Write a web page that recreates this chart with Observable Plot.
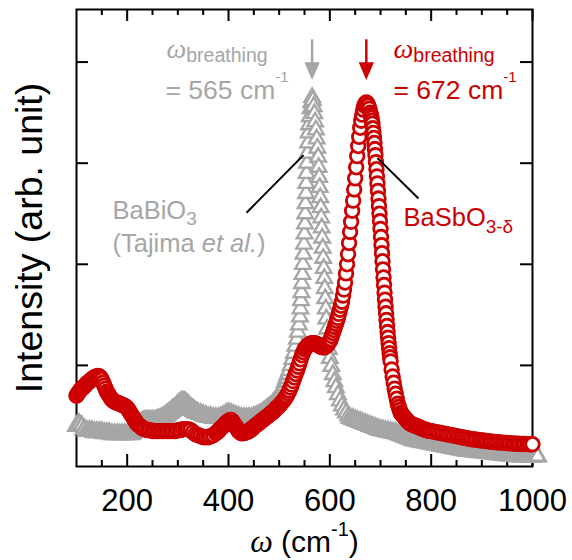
<!DOCTYPE html>
<html>
<head>
<meta charset="utf-8">
<script src="https://cdn.jsdelivr.net/npm/d3@7"></script>
<script src="https://cdn.jsdelivr.net/npm/@observablehq/plot@0.6"></script>
<style>
html, body { margin: 0; padding: 0; background: #ffffff; }
#chart svg { display: block; }
</style>
</head>
<body>
<div id="chart"></div>
<script>
// ---------------- DATA ----------------
// BaSbO3-δ (red open circles), sampled in segments
const basbX = [
  ...d3.range(100, 236, 2.5),
  ...d3.range(240, 376, 5),
  ...d3.range(377.5, 598, 2.5),
  ...d3.range(600, 679, 2),
  ...d3.range(680, 721, 1),
  ...d3.range(722, 741, 2),
  ...d3.range(742.5, 801, 2.5),
  ...d3.range(805, 1001, 5)
];
const basbY = [
  // 100 .. 235 (2.5)
  0.70,0.72,0.74,0.755,0.77,0.78,0.79,0.805,0.82,0.83,
  0.84,0.85,0.86,0.87,0.88,0.885,0.89,0.895,0.89,0.88,
  0.86,0.83,0.80,0.77,0.74,0.72,0.70,0.68,0.66,0.65,
  0.64,0.635,0.63,0.625,0.62,0.615,0.61,0.605,0.60,0.59,
  0.58,0.56,0.54,0.52,0.50,0.48,0.46,0.44,0.42,0.41,
  0.40,0.39,0.38,0.375,0.37,
  // 240 .. 375 (5)
  0.36,0.36,0.35,0.35,0.35,0.35,0.35,0.35,0.35,0.35,
  0.35,0.35,0.36,0.36,0.37,0.37,0.37,0.36,0.34,0.32,
  0.31,0.30,0.29,0.29,0.29,0.30,0.31,0.33,
  // 377.5 .. 597.5 (2.5)
  0.34,0.35,0.365,0.38,0.39,0.40,0.415,0.43,0.44,0.45,
  0.457,0.46,0.45,0.43,0.41,0.39,0.37,0.35,0.34,0.33,
  0.328,0.33,0.335,0.34,0.345,0.35,0.36,0.37,0.38,0.39,
  0.40,0.41,0.42,0.43,0.44,0.45,0.46,0.47,0.48,0.49,
  0.50,0.51,0.52,0.53,0.54,0.55,0.565,0.58,0.59,0.60,
  0.615,0.63,0.645,0.66,0.68,0.70,0.725,0.75,0.78,0.81,
  0.845,0.88,0.915,0.95,0.985,1.02,1.06,1.10,1.13,1.16,
  1.175,1.19,1.20,1.21,1.215,1.22,1.22,1.22,1.215,1.21,
  1.20,1.19,1.185,1.18,1.18,1.18,1.19,1.20,1.22,
  // 600 .. 678 (2)
  1.24,1.26,1.29,1.32,1.35,1.38,1.41,1.44,1.47,1.51,
  1.55,1.59,1.63,1.69,1.75,1.82,1.91,2.00,2.10,2.21,
  2.32,2.42,2.53,2.63,2.74,2.85,2.96,3.07,3.17,3.26,
  3.35,3.42,3.48,3.53,3.57,3.59,3.60,3.59,3.57,3.54,
  // 680 .. 720 (1)
  3.50,3.475,3.45,3.42,3.39,3.345,3.30,3.25,3.20,3.14,
  3.08,3.01,2.94,2.87,2.80,2.725,2.65,2.575,2.50,2.425,
  2.35,2.27,2.19,2.11,2.03,1.95,1.87,1.795,1.72,1.65,
  1.58,1.515,1.45,1.39,1.33,1.275,1.22,1.17,1.12,1.08,
  1.04,
  // 722 .. 740 (2)
  0.96,0.89,0.83,0.77,0.72,0.67,0.62,0.59,0.56,0.53,
  // 742.5 .. 800 (2.5)
  0.515,0.50,0.485,0.47,0.455,0.44,0.43,0.42,0.415,0.41,
  0.405,0.40,0.395,0.39,0.385,0.38,0.375,0.37,0.365,0.36,
  0.357,0.355,0.352,0.35,
  // 805 .. 1000 (5)
  0.345,0.34,0.335,0.33,0.325,0.32,0.315,0.31,0.305,0.30,
  0.295,0.29,0.285,0.28,0.275,0.27,0.267,0.264,0.26,0.257,
  0.254,0.251,0.248,0.245,0.242,0.24,0.238,0.236,0.234,0.232,
  0.23,0.228,0.226,0.225,0.224,0.223,0.222,0.221,0.22,0.22
];

// BaBiO3, Tajima et al. (grey open triangles): background below the peak
const babiLowX = [
  ...d3.range(100, 206, 5),
  ...d3.range(207.5, 341, 2.5),
  ...d3.range(345, 461, 5),
  ...d3.range(462.5, 518, 2.5)
];
const babiLowY = [
  // 100 .. 205 (5)
  0.40,0.42,0.40,0.37,0.35,0.35,0.35,0.34,0.34,0.34,
  0.34,0.33,0.33,0.33,0.32,0.32,0.32,0.32,0.32,0.32,
  0.32,0.32,
  // 207.5 .. 340 (2.5)
  0.325,0.33,0.34,0.35,0.365,0.38,0.40,0.42,0.43,0.44,
  0.445,0.45,0.45,0.45,0.45,0.45,0.45,0.45,0.45,0.45,
  0.455,0.46,0.465,0.47,0.475,0.48,0.49,0.50,0.51,0.52,
  0.53,0.54,0.55,0.56,0.57,0.58,0.595,0.61,0.62,0.63,
  0.637,0.64,0.637,0.63,0.62,0.61,0.595,0.58,0.57,0.56,
  0.55,0.54,0.535,0.53,
  // 345 .. 460 (5)
  0.52,0.51,0.50,0.49,0.49,0.48,0.48,0.48,0.49,0.50,
  0.52,0.53,0.52,0.51,0.50,0.49,0.48,0.48,0.48,0.48,
  0.48,0.49,0.50,0.51,
  // 462.5 .. 517.5 (2.5)
  0.515,0.52,0.53,0.54,0.55,0.56,0.57,0.58,0.59,0.60,
  0.615,0.63,0.645,0.66,0.68,0.70,0.72,0.74,0.77,0.80,
  0.835,0.87,0.91
];
// breathing peak (explicit positions)
const babiPeakX = [
  520,523,526,529,532,535,537,539,541,542,
  543,544,545,546,547,548,549,550,551,551.5,
  552,553,553.5,554,555,556,557,558,559,560.5,
  562,563.5,565,566.5,568,569.5,571,572.5,574,575.5,
  577,578,579,580,581,582,583,584,585,586,
  587,588,589,590,591,592,593,594.5,596,598,
  600,603,606,609,612,616,620,624,628,632,
  636
];
const babiPeakY = [
  0.95,1.00,1.06,1.12,1.19,1.26,1.33,1.40,1.48,1.56,
  1.64,1.72,1.81,1.90,2.00,2.10,2.20,2.30,2.40,2.50,
  2.60,2.70,2.80,2.90,3.00,3.10,3.20,3.30,3.38,3.46,
  3.54,3.60,3.65,3.62,3.56,3.49,3.41,3.33,3.24,3.15,
  3.06,2.96,2.86,2.76,2.66,2.56,2.46,2.36,2.26,2.16,
  2.06,1.96,1.86,1.76,1.66,1.56,1.46,1.36,1.26,1.16,
  1.07,0.99,0.91,0.84,0.78,0.71,0.65,0.60,0.56,0.53,
  0.50
];
// tail above the peak
const babiHighX = d3.range(640, 1011, 5);
const babiHighY = [
  0.48,0.47,0.46,0.45,0.44,0.43,0.42,0.41,0.40,0.39,
  0.38,0.37,0.36,0.355,0.35,0.345,0.34,0.335,0.33,0.32,
  0.31,0.30,0.29,0.28,0.27,0.26,0.255,0.25,0.245,0.24,
  0.235,0.23,0.225,0.22,0.215,0.21,0.205,0.20,0.195,0.19,
  0.185,0.18,0.175,0.17,0.165,0.16,0.157,0.154,0.151,0.148,
  0.145,0.142,0.14,0.137,0.134,0.131,0.128,0.125,0.122,0.119,
  0.116,0.113,0.11,0.108,0.106,0.104,0.102,0.10,0.10,0.10,
  0.10,0.10,0.10,0.10,0.10
];

// axis ticks
const xMajorTicks = [200, 400, 600, 800, 1000];
const xMinorTicks = [150, 250, 300, 350, 450, 500, 550, 650, 700, 750, 850, 900, 950];
const yTicks = [1, 2, 3, 4];

// annotation labels
const xTitle = "ω (cm-1)";
const yTitle = "Intensity (arb. unit)";
const peakOmega = [565, 672];                 // breathing-mode peak positions
const greyLabels = [
  {w: 277.6, v: 4.045, t: "ωbreathing"},
  {w: 275.7, v: 3.63,  t: "= 565 cm-1"}
];
const redLabels = [
  {w: 725.7, v: 4.045, t: "ωbreathing"},
  {w: 725.7, v: 3.63,  t: "= 672 cm-1"}
];
const greyName = [
  {w: 171, v: 2.45, t: "BaBiO3"},
  {w: 171, v: 2.12, t: "(Tajima et al.)"}
];
const redName = [{w: 745.4, v: 2.38, t: "BaSbO3-δ"}];
const leaders = [
  {x1: 435.5, y1: 2.51, x2: 548, y2: 3.08},
  {x1: 694,   y1: 3.05, x2: 775, y2: 2.65}
];

// ---------------- BUILD TABLES ----------------
const pair = (X, Y) => X.map((w, i) => ({w, v: Y[i]}));
const basb = pair(basbX, basbY);
const babiLow = pair(babiLowX, babiLowY);
const babiPeak = pair(babiPeakX, babiPeakY);
const babiHigh = pair(babiHighX, babiHighY);
[[basbX, basbY, "basb"], [babiLowX, babiLowY, "babiLow"], [babiPeakX, babiPeakY, "babiPeak"], [babiHighX, babiHighY, "babiHigh"]]
  .forEach(([X, Y, n]) => { if (X.length !== Y.length) console.error(n, X.length, Y.length); });

// ---------------- STYLE ----------------
const W = 572, H = 560;
const mL = 76, mR = 40, mT = 9, mB = 94;
const innerW = W - mL - mR;
const innerH = H - mT - mB;
const RED = "#cc0000", GREY = "#a6a6a6";
const SANS = "'Liberation Sans', Arial, sans-serif";
const SERIF = "'Liberation Serif', 'Times New Roman', serif";

const arrowHead = {
  draw(context, size) {
    const r = Math.sqrt(size / Math.PI);
    context.moveTo(-0.9 * r, -1.05 * r);
    context.lineTo(0.9 * r, -1.05 * r);
    context.lineTo(0, 1.05 * r);
    context.closePath();
  }
};

const tickStyle = {stroke: "black", strokeWidth: 2};
const triStyle = {x: "w", y: "v", symbol: "triangle", r: 5.8, stroke: GREY, fill: "white"};

const chart = Plot.plot({
  width: W, height: H,
  marginLeft: mL, marginRight: mR, marginTop: mT, marginBottom: mB,
  style: {fontFamily: SANS, background: "white", color: "black", overflow: "visible"},
  x: {domain: [100, 1000], axis: null},
  y: {domain: [0, 4.52], axis: null},
  marks: [
    Plot.frame({stroke: "black", strokeWidth: 2}),
    Plot.tickX(xMajorTicks, {x: d => d, insetTop: innerH - 12, ...tickStyle}),
    Plot.tickX(xMajorTicks, {x: d => d, insetBottom: innerH - 12, ...tickStyle}),
    Plot.tickX(xMinorTicks, {x: d => d, insetTop: innerH - 6, ...tickStyle}),
    Plot.tickX(xMinorTicks, {x: d => d, insetBottom: innerH - 6, ...tickStyle}),
    Plot.tickY(yTicks, {y: d => d, insetRight: innerW - 12, ...tickStyle}),
    Plot.tickY(yTicks, {y: d => d, insetLeft: innerW - 12, ...tickStyle}),
    Plot.axisX(xMajorTicks, {tickSize: 0, tickPadding: 22, fontSize: 31, fontFamily: SANS,
      tickFormat: d => String(d), label: null, fill: "black"}),
    Plot.text([xTitle], {text: d => d, frameAnchor: "bottom", dy: 85, textAnchor: "middle",
      lineAnchor: "bottom", fontSize: 30, fill: "black"}),
    Plot.text([yTitle], {text: d => d, frameAnchor: "left", dx: -35, rotate: -90, textAnchor: "middle",
      lineAnchor: "bottom", fontSize: 37.5, fill: "black"}),

    // data
    Plot.dot(babiLow, {...triStyle, strokeWidth: 3}),
    Plot.dot(babiPeak, {...triStyle, strokeWidth: 2.3}),
    Plot.dot(babiHigh, {...triStyle, strokeWidth: 3}),
    Plot.dot(basb, {x: "w", y: "v", r: 6.8, stroke: RED, fill: "white", strokeWidth: 2.8}),

    // arrows
    Plot.ruleX([peakOmega[0]], {x: d => d, y1: 4.22, y2: 3.95, stroke: GREY, strokeWidth: 2.5}),
    Plot.dot([peakOmega[0]], {x: d => d, y: 3.91, symbol: arrowHead, r: 8.5, fill: GREY, stroke: "none"}),
    Plot.ruleX([peakOmega[1]], {x: d => d, y1: 4.22, y2: 3.95, stroke: RED, strokeWidth: 2.5}),
    Plot.dot([peakOmega[1]], {x: d => d, y: 3.91, symbol: arrowHead, r: 8.5, fill: RED, stroke: "none"}),

    // leader lines
    Plot.link(leaders, {x1: "x1", y1: "y1", x2: "x2", y2: "y2", stroke: "black", strokeWidth: 2}),

    // annotations
    Plot.text(greyLabels, {x: "w", y: "v", text: "t", fill: GREY, fontSize: 26.5, textAnchor: "start", lineAnchor: "bottom"}),
    Plot.text(redLabels, {x: "w", y: "v", text: "t", fill: RED, fontSize: 26.5, textAnchor: "start", lineAnchor: "bottom"}),
    Plot.text(greyName, {x: "w", y: "v", text: "t", fill: GREY, fontSize: 25.5, textAnchor: "start", lineAnchor: "bottom"}),
    Plot.text(redName, {x: "w", y: "v", text: "t", fill: RED, fontSize: 25.5, textAnchor: "start", lineAnchor: "bottom"})
  ]
});

// ---------------- rich text (sub/superscripts, italics) ----------------
const rich = {
  "ωbreathing": [
    {t: "ω", fam: SERIF, italic: true, size: 28},
    {t: "breathing", size: 19.5, dy: 4}
  ],
  "= 565 cm-1": [{t: "= 565 cm"}, {t: "-1", size: 15, dy: -17}],
  "= 672 cm-1": [{t: "= 672 cm"}, {t: "-1", size: 15, dy: -17}],
  "BaBiO3": [{t: "BaBiO"}, {t: "3", size: 19, dy: 6}],
  "(Tajima et al.)": [{t: "(Tajima "}, {t: "et al.", italic: true}, {t: ")"}],
  "BaSbO3-δ": [{t: "BaSbO"}, {t: "3-δ", size: 19, dy: 7}],
  "ω (cm-1)": [
    {t: "ω", fam: SERIF, italic: true, size: 32},
    {t: " (cm"},
    {t: "-1", size: 20, dy: -16},
    {t: ")", dy: 16}
  ]
};
d3.select(chart).selectAll("text").each(function() {
  const spec = rich[this.textContent];
  if (!spec) return;
  this.textContent = "";
  const sel = d3.select(this);
  for (const p of spec) {
    const ts = sel.append("tspan").text(p.t);
    if (p.fam) ts.attr("font-family", p.fam);
    if (p.italic) ts.attr("font-style", "italic");
    if (p.size) ts.attr("font-size", p.size);
    if (p.dy) ts.attr("dy", p.dy);
  }
});

document.getElementById("chart").appendChild(chart);
</script>
</body>
</html>
